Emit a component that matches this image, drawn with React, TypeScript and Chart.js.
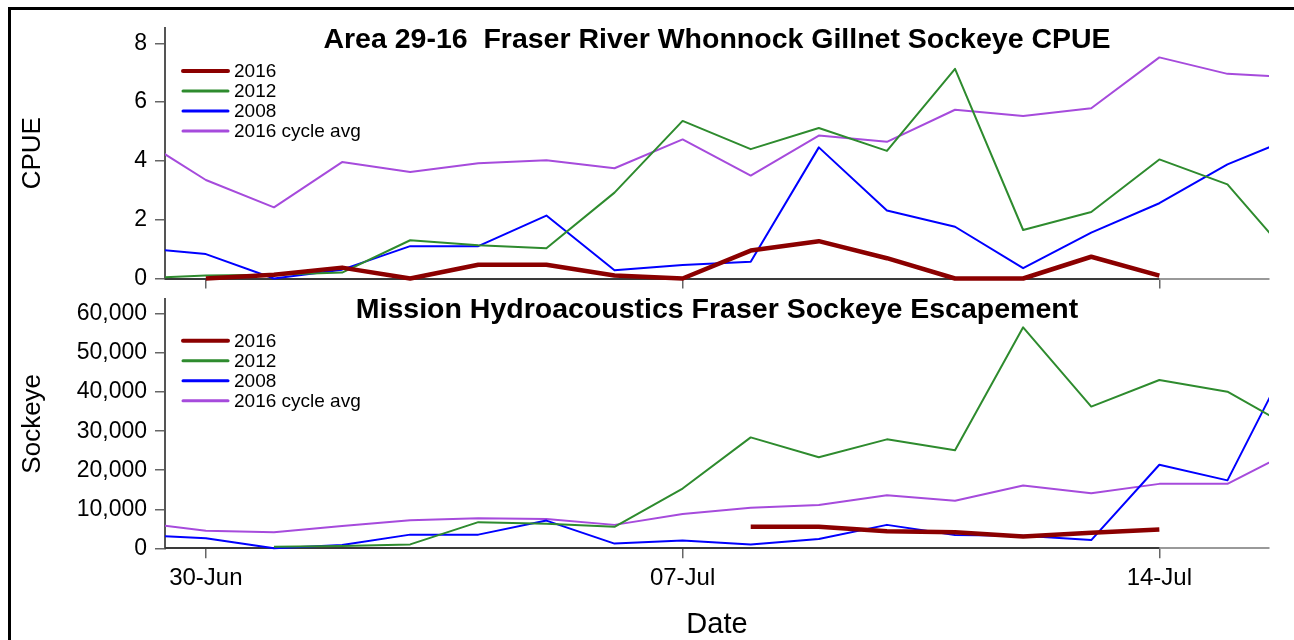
import React, { useEffect, useRef } from 'react';
import { Chart, registerables } from 'chart.js';

Chart.register(...registerables);

// ---------- data ----------
const dates = [
  '29-Jun', '30-Jun', '01-Jul', '02-Jul', '03-Jul', '04-Jul', '05-Jul', '06-Jul', '07-Jul',
  '08-Jul', '09-Jul', '10-Jul', '11-Jul', '12-Jul', '13-Jul', '14-Jul', '15-Jul', '16-Jul',
];
const dateTickLabels = ['30-Jun', '07-Jul', '14-Jul'];

const seriesLabels = ['2016', '2012', '2008', '2016 cycle avg'];

// Area 29-16 Whonnock gillnet CPUE
const cpue2016 = [null, 0, 0.13, 0.37, 0, 0.47, 0.47, 0.1, 0, 0.95, 1.27, 0.69, 0, 0, 0.74, 0.1, null, null];
const cpue2012 = [0, 0.1, 0.13, 0.2, 1.3, 1.13, 1.03, 2.92, 5.36, 4.4, 5.12, 4.34, 7.13, 1.65, 2.26, 4.05, 3.2, 0.53];
const cpue2008 = [1.05, 0.83, 0, 0.3, 1.1, 1.1, 2.14, 0.28, 0.46, 0.57, 4.46, 2.31, 1.76, 0.35, 1.56, 2.56, 3.88, 4.83];
const cpueCycleAvg = [4.81, 3.35, 2.42, 3.96, 3.62, 3.92, 4.02, 3.75, 4.73, 3.5, 4.86, 4.65, 5.74, 5.53, 5.79, 7.52, 6.96, 6.84];
const cpueTicks = [0, 2, 4, 6, 8];

// Mission hydroacoustics escapement
const esc2016 = [null, null, null, null, null, null, null, null, null, 5500, 5500, 4350, 4100, 3000, 4000, 4800, null, null];
const esc2012 = [null, null, 400, 600, 1000, 6700, 6300, 5500, 15300, 28400, 23300, 27900, 25100, 56600, 36300, 43100, 40100, 30300];
const esc2008 = [3430, 2600, 0, 850, 3500, 3500, 7100, 1200, 2000, 1000, 2400, 6000, 3400, 3200, 2100, 21400, 17400, 51600];
const escCycleAvg = [6660, 4500, 4100, 5700, 7200, 7700, 7500, 6000, 8800, 10400, 11100, 13600, 12200, 16100, 14100, 16500, 16500, 25450];
const sockeyeTicks = [0, 10000, 20000, 30000, 40000, 50000, 60000];

// ---------- styles ----------
const FONT = "'Liberation Sans', Arial, Helvetica, sans-serif";
const seriesColors = ['#8B0000', '#2E8B2E', '#0000FF', '#A64BDC'];
const seriesWidths = [4.5, 2, 2, 2];
const legendWidths = [4, 3, 3, 3];

const overlayPlugin = {
  id: 'overlay',
  beforeDatasetsDraw(chart: any, _args: any, opts: any) {
    const { ctx, chartArea } = chart;
    const xs = chart.scales.x;
    const xEnd = xs.getPixelForValue(dates.indexOf(opts.darkAxisEnd));
    ctx.save();
    ctx.strokeStyle = '#3a3a3a';
    ctx.lineWidth = 2;
    ctx.beginPath();
    ctx.moveTo(chartArea.left, Math.round(xs.top));
    ctx.lineTo(xEnd, Math.round(xs.top));
    ctx.stroke();
    ctx.restore();
  },
  afterDraw(chart: any, _args: any, opts: any) {
    const { ctx, chartArea } = chart;
    ctx.save();
    ctx.fillStyle = '#000';
    ctx.font = `bold 28.5px ${FONT}`;
    ctx.textAlign = 'center';
    ctx.textBaseline = 'alphabetic';
    ctx.fillText(opts.title, (chartArea.left + chartArea.right) / 2, chartArea.top + opts.titleOffset);

    ctx.font = `19px ${FONT}`;
    ctx.textAlign = 'left';
    ctx.textBaseline = 'middle';
    chart.data.datasets.forEach((ds: any, i: number) => {
      const y = chartArea.top + opts.legendTop + i * 20;
      ctx.strokeStyle = ds.borderColor;
      ctx.lineWidth = legendWidths[i];
      ctx.lineCap = 'round';
      ctx.beginPath();
      ctx.moveTo(chartArea.left + 18, y);
      ctx.lineTo(chartArea.left + 63, y);
      ctx.stroke();
      ctx.fillStyle = '#000';
      ctx.fillText(ds.label, chartArea.left + 69, y + 1);
    });
    ctx.restore();
  },
};

function makeConfig(o: any): any {
  return {
    type: 'line',
    data: {
      datasets: seriesLabels.map((label, i) => ({
        label,
        data: o.series[i].map((v: number | null, idx: number) => ({ x: idx, y: v })),
        borderColor: seriesColors[i],
        backgroundColor: seriesColors[i],
        borderWidth: seriesWidths[i],
        borderJoinStyle: 'round',
        pointRadius: 0,
        pointHoverRadius: 0,
        tension: 0,
        fill: false,
        spanGaps: false,
        clip: { left: 0, right: 0, top: 5, bottom: 5 },
      })),
    },
    options: {
      responsive: false,
      animation: false,
      devicePixelRatio: 1,
      events: [],
      layout: { padding: { top: o.padTop, left: 0, right: 25, bottom: 0 } },
      plugins: {
        legend: { display: false },
        tooltip: { enabled: false },
        overlay: {
          title: o.title,
          titleOffset: o.titleOffset,
          legendTop: o.legendTop,
          darkAxisEnd: '14-Jul',
        },
      },
      scales: {
        x: {
          type: 'linear',
          min: 0.4,
          max: 16.61,
          afterBuildTicks: (s: any) => {
            s.ticks = dateTickLabels.map((l) => ({ value: dates.indexOf(l) }));
          },
          afterFit: (s: any) => {
            s.height = o.xAxisHeight;
            s.paddingLeft = 0;
            s.paddingRight = 0;
          },
          ticks: {
            display: o.showXLabels,
            autoSkip: false,
            maxRotation: 0,
            padding: 6,
            color: '#000',
            font: { family: FONT, size: 24 },
            callback: (v: number) => dates[v],
          },
          grid: { drawOnChartArea: false, drawTicks: true, tickLength: 10, color: '#666', lineWidth: 1.5 },
          border: { display: true, color: '#999', width: 2 },
          title: {
            display: o.showXLabels,
            text: 'Date',
            color: '#000',
            font: { family: FONT, size: 29 },
            padding: { top: 0, bottom: 8 },
          },
        },
        y: {
          type: 'linear',
          min: 0,
          max: o.yMax,
          afterBuildTicks: (s: any) => {
            s.ticks = o.yTicks.map((v: number) => ({ value: v }));
          },
          afterFit: (s: any) => {
            s.width = 165;
            s.paddingTop = 0;
            s.paddingBottom = 0;
          },
          ticks: {
            autoSkip: false,
            padding: 8,
            color: '#000',
            font: { family: FONT, size: 23 },
            callback: (v: number) => v.toLocaleString('en-US'),
          },
          grid: { drawOnChartArea: false, drawTicks: true, tickLength: 10, color: '#666', lineWidth: 1.5 },
          border: { display: true, color: '#555', width: 2 },
          title: {
            display: true,
            text: o.yTitle,
            color: '#000',
            font: { family: FONT, size: 26 },
            padding: { top: 17, bottom: 0 },
          },
        },
      },
    },
    plugins: [overlayPlugin],
  };
}

export default function App() {
  const topRef = useRef<HTMLCanvasElement>(null);
  const botRef = useRef<HTMLCanvasElement>(null);

  useEffect(() => {
    const c1 = new Chart(
      topRef.current as HTMLCanvasElement,
      makeConfig({
        series: [cpue2016, cpue2012, cpue2008, cpueCycleAvg],
        yMax: 8.52,
        yTicks: cpueTicks,
        yTitle: 'CPUE',
        showXLabels: false,
        xAxisHeight: 21.5,
        padTop: 28,
        title: 'Area 29-16  Fraser River Whonnock Gillnet Sockeye CPUE',
        titleOffset: 20.3,
        legendTop: 43,
      })
    );
    const c2 = new Chart(
      botRef.current as HTMLCanvasElement,
      makeConfig({
        series: [esc2016, esc2012, esc2008, escCycleAvg],
        yMax: 63770,
        yTicks: sockeyeTicks,
        yTitle: 'Sockeye',
        showXLabels: true,
        xAxisHeight: 101.7,
        padTop: 9.3,
        title: 'Mission Hydroacoustics Fraser Sockeye Escapement',
        titleOffset: 19,
        legendTop: 41.5,
      })
    );
    return () => {
      c1.destroy();
      c2.destroy();
    };
  }, []);

  return (
    <div
      style={{
        position: 'fixed',
        left: 0,
        top: 0,
        width: 1294,
        height: 640,
        overflow: 'hidden',
        background: '#fff',
      }}
    >
      <div
        style={{
          position: 'absolute',
          left: 8,
          top: 7,
          width: 1300,
          height: 700,
          border: '3px solid #000',
          boxSizing: 'border-box',
        }}
      />
      <canvas ref={topRef} width={1294} height={300} style={{ position: 'absolute', left: 0, top: 0 }} />
      <canvas ref={botRef} width={1294} height={360} style={{ position: 'absolute', left: 0, top: 290 }} />
    </div>
  );
}
